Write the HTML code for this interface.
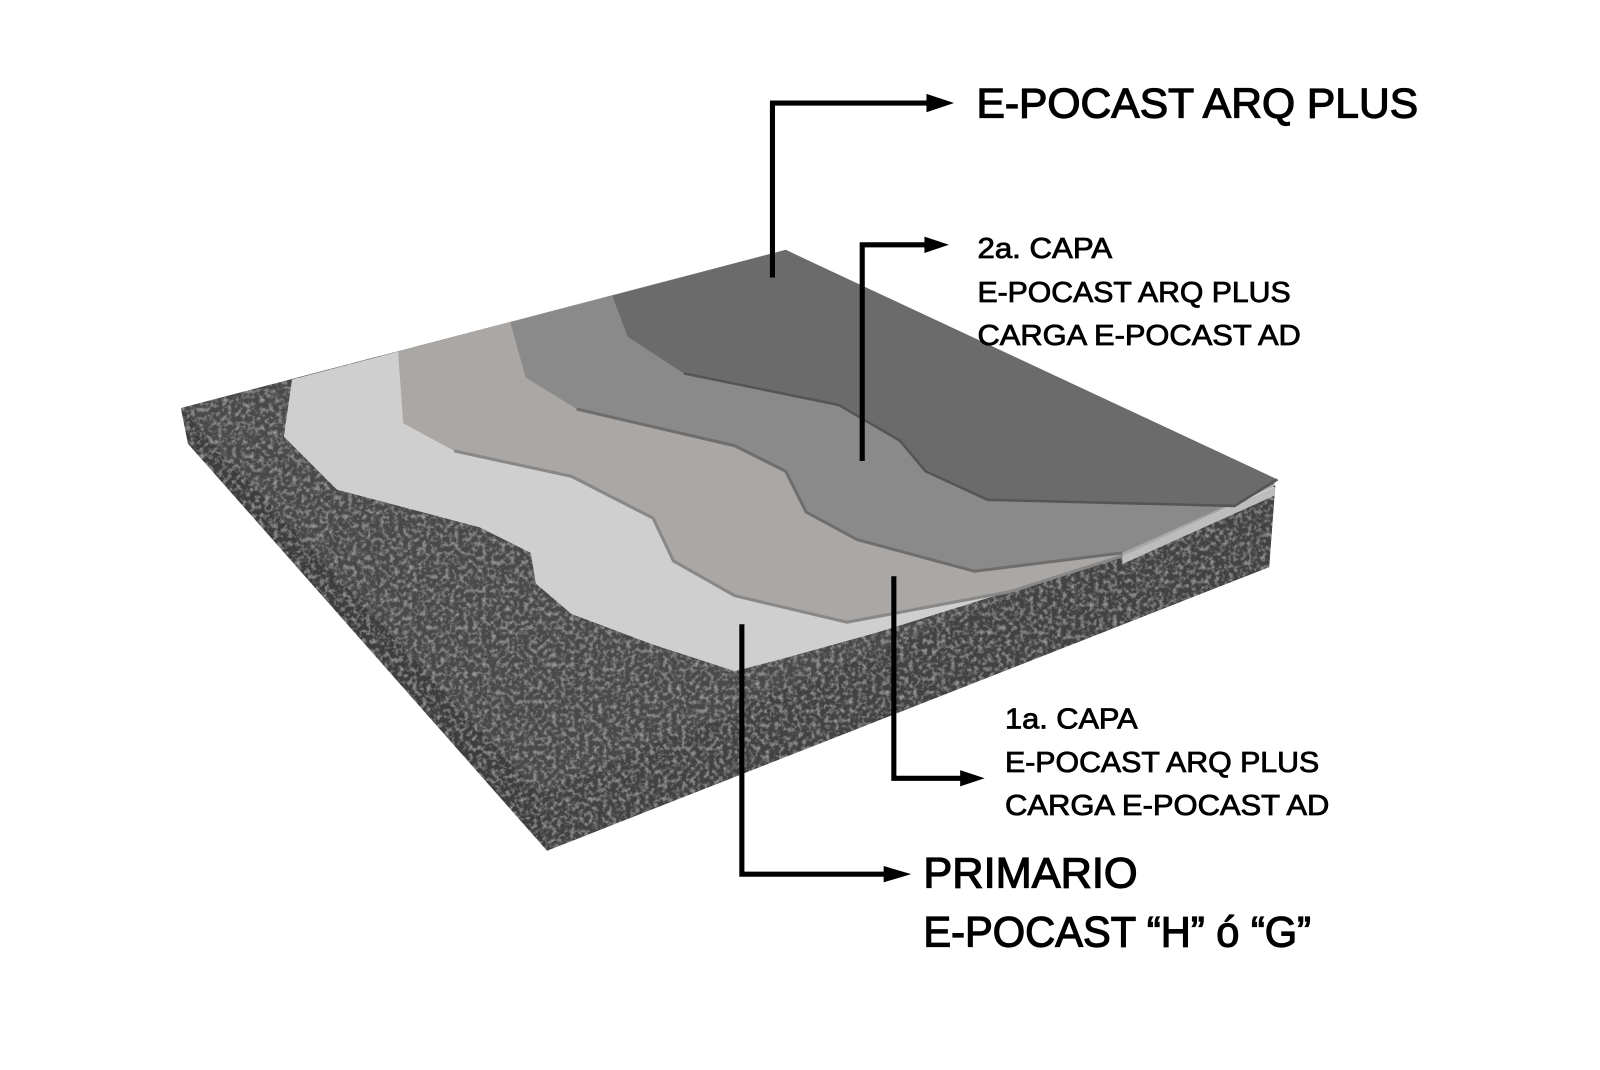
<!DOCTYPE html>
<html><head><meta charset="utf-8"><style>html,body{margin:0;padding:0;background:#fff}svg{display:block}</style></head>
<body>
<svg width="1600" height="1070" viewBox="0 0 1568 1049" xmlns="http://www.w3.org/2000/svg">
<defs>
<filter id="tex" x="0" y="0" width="100%" height="100%">
<feTurbulence type="fractalNoise" baseFrequency="0.22" numOctaves="3" seed="4" result="n"/>
<feColorMatrix in="n" type="matrix" values="0 0 0 0 0.6  0 0 0 0 0.6  0 0 0 0 0.6  1.2 0 0 0 -0.55" result="c"/>
<feComposite in="c" in2="SourceGraphic" operator="in" result="m"/>
<feMerge><feMergeNode in="SourceGraphic"/><feMergeNode in="m"/></feMerge>
</filter>
</defs>
<g filter="url(#tex)">
<polygon points="177,400 770,245 1250,476 526,775" fill="#484848"/>
<polygon points="177,400 526,775 536,834 184,435" fill="#3c3c3c"/>
<polygon points="526,775 1250,476 1244,556 536,834" fill="#434343"/>
</g>
<polygon points="286,372 770,245 1250,478 1100,545 860,620 770,645 720,658 640,632 560,602 525,572 520,542 470,517 330,480 278,428" fill="#cfcfcf"/>
<polygon points="1100,545 1250,478 1249,486 1100,553" fill="#bdbdbd"/>
<polygon points="390,345 770,245 1250,476 1100,545 990,580 830,610 720,584 660,550 640,508 560,467 445,442 395,415" fill="#aaa7a4"/>
<polyline points="445,442 560,467 640,508 660,550 720,584 830,610 990,580 1100,545" fill="none" stroke="#888" stroke-width="3"/>
<polygon points="500,316 770,245 1250,474 1100,542 955,560 840,529 790,502 770,462 720,437 565,401 515,370" fill="#8a8a8a"/>
<polyline points="565,401 720,437 770,462 790,502 840,529 955,560 1100,542" fill="none" stroke="#6e6e6e" stroke-width="3"/>
<polygon points="600,290 770,245 1252,470 1210,496 968,490 907,462 882,432 822,397 670,366 615,330" fill="#6b6b6b"/>
<polyline points="670,366 822,397 882,432 907,462 968,490 1210,496 1252,470" fill="none" stroke="#555" stroke-width="2.5"/>
<g stroke="#000" stroke-width="5" fill="none">
<polyline points="757,272 757,101 912,101"/>
<polyline points="845,452 845,240 912,240"/>
<polyline points="876,565 876,763 945,763"/>
<polyline points="727,612 727,857 870,857"/>
</g>
<g fill="#000">
<polygon points="908,92 935,101 908,110"/>
<polygon points="906,232 930,240 906,248"/>
<polygon points="941,755 965,763 941,771"/>
<polygon points="866,849 893,857 866,865"/>
</g>
<g font-family="'Liberation Sans', sans-serif" fill="#000" stroke="#000">
<text x="957" y="115" font-size="41" stroke-width="1.2" textLength="433" lengthAdjust="spacingAndGlyphs">E-POCAST ARQ PLUS</text>
<text x="958" y="253" font-size="28" stroke-width="0.8" textLength="132" lengthAdjust="spacingAndGlyphs">2a. CAPA</text>
<text x="958" y="296" font-size="28" stroke-width="0.8" textLength="307" lengthAdjust="spacingAndGlyphs">E-POCAST ARQ PLUS</text>
<text x="958" y="338" font-size="28" stroke-width="0.8" textLength="317" lengthAdjust="spacingAndGlyphs">CARGA E-POCAST AD</text>
<text x="985" y="714" font-size="28" stroke-width="0.8" textLength="130" lengthAdjust="spacingAndGlyphs">1a. CAPA</text>
<text x="985" y="757" font-size="28" stroke-width="0.8" textLength="308" lengthAdjust="spacingAndGlyphs">E-POCAST ARQ PLUS</text>
<text x="985" y="799" font-size="28" stroke-width="0.8" textLength="318" lengthAdjust="spacingAndGlyphs">CARGA E-POCAST AD</text>
<text x="905" y="870" font-size="42" stroke-width="1.2" textLength="210" lengthAdjust="spacingAndGlyphs">PRIMARIO</text>
<text x="905" y="928" font-size="42" stroke-width="1.2" textLength="380" lengthAdjust="spacingAndGlyphs">E-POCAST “H” ó “G”</text>
</g>
</svg>
</body></html>
